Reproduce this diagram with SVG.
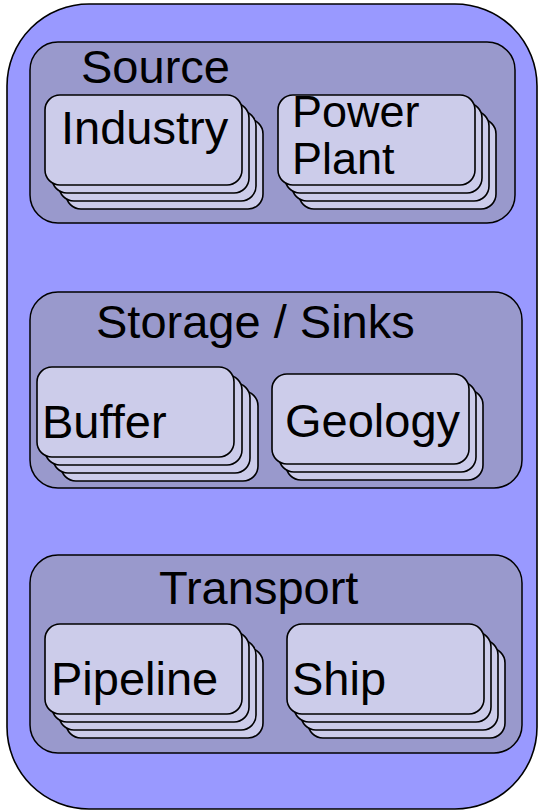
<svg xmlns="http://www.w3.org/2000/svg" width="539" height="811" viewBox="0 0 539 811">
  <style>
    .outer { fill: #9999ff; stroke: #000; stroke-width: 1.6; }
    .group { fill: #9999cc; stroke: #000; stroke-width: 1.5; }
    .card { fill: #ccccea; stroke: #000; stroke-width: 1.6; }
    .label { font-family: "Liberation Sans", Arial, sans-serif; font-size: 47px; fill: #000; }
    .label.tight { font-size: 45px; }
  </style>
  <defs>
    <rect id="card" class="card" x="0" y="0" width="197" height="90" rx="15" ry="15"/>
  </defs>

  <!-- outer container -->
  <g id="system">
    <rect class="outer" x="7" y="4" width="530" height="805" rx="82" ry="82"/>
  </g>

  <!-- Source group -->
  <g id="source">
    <rect class="group" x="30" y="42" width="485" height="181" rx="28" ry="28"/>
    <text class="label" x="81" y="83">Source</text>
  </g>
  <g id="industry">
    <use href="#card" x="66" y="119"/>
    <use href="#card" x="59" y="111"/>
    <use href="#card" x="52" y="103"/>
    <use href="#card" x="45" y="95"/>
    <text class="label" x="61" y="144">Industry</text>
  </g>
  <g id="power-plant">
    <use href="#card" x="299" y="119"/>
    <use href="#card" x="292" y="111"/>
    <use href="#card" x="285" y="103"/>
    <use href="#card" x="278" y="95"/>
    <text class="label tight" x="292" y="127">Power</text>
    <text class="label tight" x="292" y="174">Plant</text>
  </g>

  <!-- Storage / Sinks group -->
  <g id="storage-sinks">
    <rect class="group" x="30" y="292" width="492" height="196" rx="28" ry="28"/>
    <text class="label" x="96" y="338">Storage / Sinks</text>
  </g>
  <g id="buffer">
    <use href="#card" x="61" y="391"/>
    <use href="#card" x="53" y="383"/>
    <use href="#card" x="45" y="375"/>
    <use href="#card" x="37" y="367"/>
    <text class="label" x="42" y="438">Buffer</text>
  </g>
  <g id="geology">
    <use href="#card" x="286" y="390"/>
    <use href="#card" x="279" y="382"/>
    <use href="#card" x="272" y="374"/>
    <text class="label" x="285" y="437">Geology</text>
  </g>

  <!-- Transport group -->
  <g id="transport">
    <rect class="group" x="30" y="555" width="492" height="198" rx="28" ry="28"/>
    <text class="label" x="159" y="604">Transport</text>
  </g>
  <g id="pipeline">
    <use href="#card" x="66" y="648"/>
    <use href="#card" x="59" y="640"/>
    <use href="#card" x="52" y="632"/>
    <use href="#card" x="45" y="624"/>
    <text class="label" x="51" y="695">Pipeline</text>
  </g>
  <g id="ship">
    <use href="#card" x="308" y="648"/>
    <use href="#card" x="301" y="640"/>
    <use href="#card" x="294" y="632"/>
    <use href="#card" x="287" y="624"/>
    <text class="label" x="292" y="695">Ship</text>
  </g>

  <!-- no connectors in this diagram -->
  <g id="connectors"/>
</svg>
